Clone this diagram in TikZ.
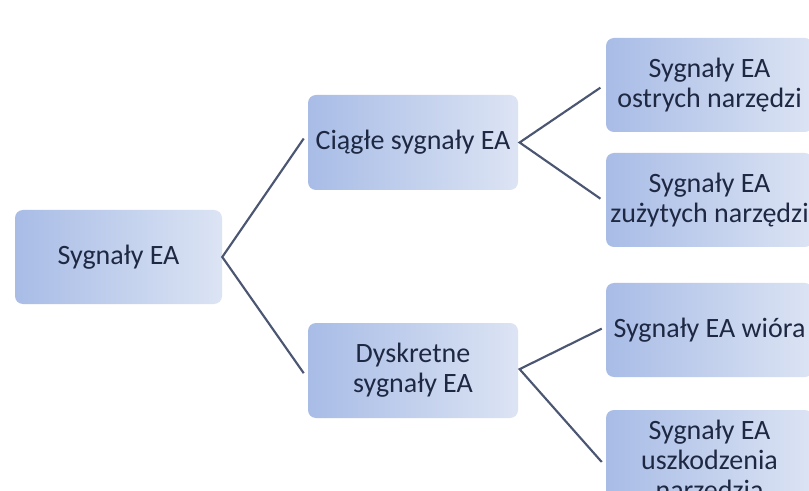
\documentclass[tikz,border=0pt]{standalone}
\usepackage{fontspec}
\setmainfont{Carlito}
\usepackage{xcolor}
\usepackage{tikz}

\definecolor{boxleft}{RGB}{168,188,230}
\definecolor{boxright}{RGB}{220,228,244}
\definecolor{txtnavy}{RGB}{30,40,66}
\definecolor{lineblue}{RGB}{74,86,114}

\begin{document}
\begin{tikzpicture}[x=0.75pt,y=0.75pt,yscale=-1,xscale=1,
  box/.style={rounded corners=6pt,left color=boxleft,right color=boxright,draw=none,
    minimum width=155.25pt,minimum height=70.5pt,align=center,text=txtnavy,
    font=\fontsize{21}{22.5}\selectfont,inner sep=2pt},
  conn/.style={draw=lineblue,line width=1.6pt,line join=miter}]

\path[use as bounding box,clip] (0,0) rectangle (809,491);

\fill[white] (0,0) rectangle (809,491);



\node (sygnaly) at (118.5,257) [box] {Sygnały EA};

\node (ciagle) at (413,142.5) [box,minimum width=157.5pt,minimum height=71.25pt] {Ciągłe sygnały EA};

\node (dyskretne) at (413,370.5) [box,minimum width=157.5pt,minimum height=71.25pt] {Dyskretne\\sygnały EA};

\node (ostrych) at (709.5,85) [box] {Sygnały EA\\ostrych narzędzi};

\node (zuzytych) at (709.5,200) [box] {Sygnały EA\\zużytych narzędzi};

\node (wiora) at (709.5,330) [box] {Sygnały EA wióra};

\node (uszkodzenia) at (709.5,462) [box,minimum height=78pt] {Sygnały EA\\uszkodzenia\\narzędzia};



\draw [conn] ([xshift=-3pt,yshift=-3pt]ciagle.west) -- (sygnaly.east) -- ([xshift=-3pt,yshift=2pt]dyskretne.west) ;

\draw [conn] ([xshift=-4pt,yshift=2pt]ostrych.west) -- ([xshift=1pt]ciagle.east) -- ([xshift=-4pt,yshift=-1pt]zuzytych.west) ;

\draw [conn] ([xshift=-3pt,yshift=-1pt]wiora.west) -- ([xshift=1pt,yshift=-1pt]dyskretne.east) -- ([xshift=-3pt]uszkodzenia.west) ;


\end{tikzpicture}
\end{document}
